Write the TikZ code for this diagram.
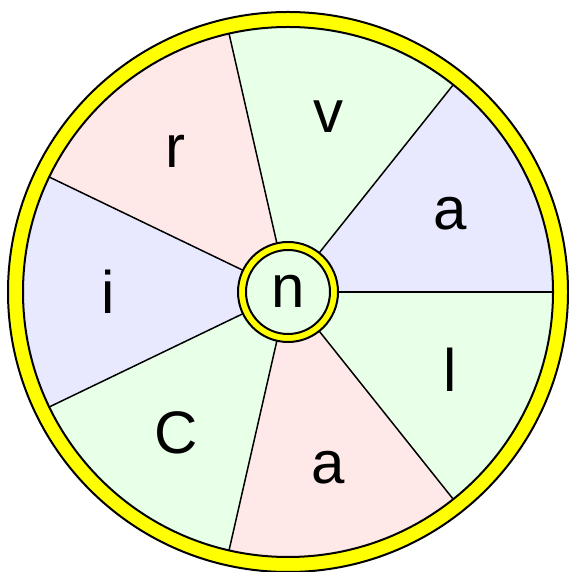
\documentclass[tikz,border=0pt]{standalone}
\usepackage{fontspec}
\setmainfont{Liberation Sans}
\usetikzlibrary{calc}
\definecolor{sgreen}{HTML}{E8FFE8}
\definecolor{sblue}{HTML}{E8E8FF}
\definecolor{spink}{HTML}{FFE8E8}
\definecolor{ring}{HTML}{FFFF00}
\begin{document}
\begin{tikzpicture}[x=1pt,y=1pt,
  sector/.style={draw=black,line width=1.5pt,line join=round},
  letter/.style={font=\fontsize{60}{72}\selectfont,inner sep=0pt}]
\useasboundingbox (0,0) rectangle (569,572);
\coordinate (c) at (288,280);
% outer ring
\filldraw[fill=ring,draw=black,line width=2pt] (c) circle (280);
% sectors
\foreach \i/\col in {0/sblue,1/sgreen,2/spink,3/sblue,4/sgreen,5/spink,6/sgreen}{
  \pgfmathsetmacro{\a}{\i*360/7}
  \pgfmathsetmacro{\b}{(\i+1)*360/7}
  \fill[\col] (c) -- ++(\a:265) arc[start angle=\a,end angle=\b,radius=265] -- cycle;
}
\foreach \i in {0,...,6}{
  \pgfmathsetmacro{\a}{\i*360/7}
  \draw[sector] (c) -- ++(\a:265);
}
\draw[black,line width=2pt] (c) circle (265);
% center hub
\filldraw[fill=ring,draw=black,line width=2pt] (c) circle (50);
\filldraw[fill=sgreen,draw=black,line width=2pt] (c) circle (42);
% labels
\node[letter] (n) at ($(c)+(0,1)$) {n};
\foreach \i/\t/\nm in {0/a/l0,1/v/l1,2/r/l2,3/i/l3,4/C/l4,5/a/l5,6/l/l6}{
  \pgfmathsetmacro{\m}{(\i+0.5)*360/7}
  \node[letter] (\nm) at ($(c)+(\m:180)$) {\t};
}
\end{tikzpicture}
\end{document}
